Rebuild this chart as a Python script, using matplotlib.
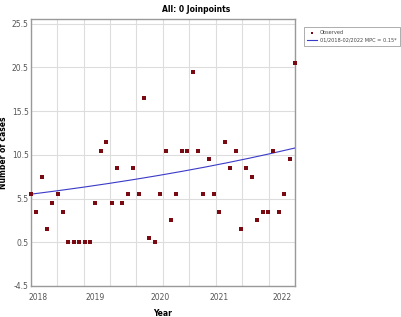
import matplotlib
matplotlib.use("Agg")
import matplotlib.pyplot as plt
import numpy as np
from matplotlib.ticker import MultipleLocator, FixedLocator

# Observed monthly counts, 01/2018 .. 02/2022 (zeros shown as 0.5)
months = list(range(50))
observed = [6, 4, 8, 2, 5, 6, 4, 0.5, 0.5, 0.5,
            0.5, 0.5, 5, 11, 12, 5, 9, 5, 6, 9,
            6, 17, 1, 0.5, 6, 11, 3, 6, 11, 11,
            20, 11, 6, 10, 6, 4, 12, 9, 11, 2,
            9, 8, 3, 4, 4, 11, 4, 6, 10, 21]

# Fitted log-linear trend (start value, monthly growth)
trend_start = 6.0
trend_rate = 0.0129

year_labels = ["2018", "2019", "2020", "2021", "2022"]
year_pos = [1.3, 11.9, 24.0, 34.9, 46.6]
y_ticks = [-4.5, 0.5, 5.5, 10.5, 15.5, 20.5, 25.5]

fig = plt.figure(figsize=(4.01, 3.17), dpi=100)
ax = fig.add_axes([0.0766, 0.0978, 0.659, 0.841])

xs = np.linspace(0, 49, 200)
trend = trend_start * np.exp(trend_rate * xs)
ax.plot(xs, trend, color="#3a3ac8", lw=0.8, zorder=3,
        label="01/2018-02/2022 MPC = 0.15*")
ax.scatter(months, observed, marker="s", s=5, color="#7a0a12", lw=0,
           zorder=4, label="Observed", clip_on=False)

ax.set_xlim(0, 49)
ax.set_ylim(-4.5, 26)
ax.set_yticks(y_ticks)
ax.set_yticklabels([f"{v:g}" for v in y_ticks])
ax.xaxis.set_major_locator(FixedLocator(year_pos))
ax.set_xticklabels(year_labels)
ax.xaxis.set_minor_locator(MultipleLocator(4.9))
ax.grid(True, which="minor", axis="x", color="#dddddd", lw=0.8)
ax.grid(True, which="major", axis="y", color="#dddddd", lw=0.8)
ax.grid(False, which="major", axis="x")
ax.tick_params(axis="both", which="both", length=0, labelsize=5.5,
               labelcolor="#555555")
ax.tick_params(axis="x", pad=5)
ax.tick_params(axis="y", pad=1.5)
for s in ax.spines.values():
    s.set_color("#999999")
    s.set_linewidth(1.0)

ax.set_xlabel("Year", fontsize=5.5, fontweight="bold", labelpad=5)
ax.set_ylabel("Number of cases", fontsize=5.5, fontweight="bold", labelpad=3)
fig.text(0.49, 0.985, "All: 0 Joinpoints", ha="center", va="top",
         fontsize=5.5, fontweight="bold")

handles, labels = ax.get_legend_handles_labels()
leg = fig.legend(handles[::-1], labels[::-1], loc="upper left",
                 bbox_to_anchor=(0.758, 0.915), fontsize=3.6, frameon=True,
                 fancybox=False, edgecolor="#888888", handlelength=2.0,
                 borderpad=0.7, labelspacing=0.5, handletextpad=0.5,
                 markerscale=0.8, borderaxespad=0)
leg.get_frame().set_linewidth(0.6)
for t in leg.get_texts():
    t.set_color("#444444")

fig.savefig("out.png", dpi=100)
